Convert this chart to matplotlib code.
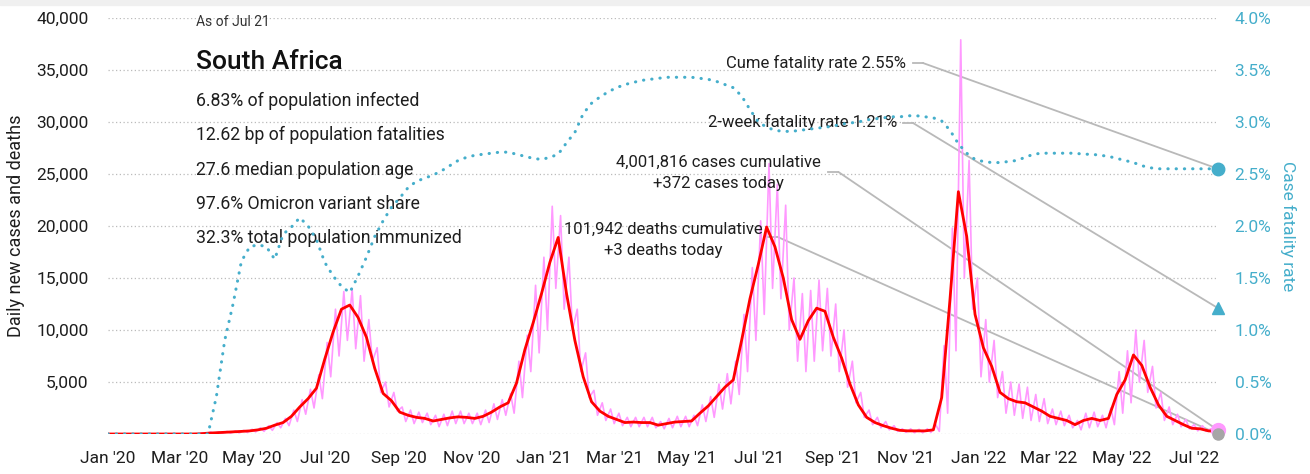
import matplotlib
matplotlib.use('Agg')
import matplotlib.pyplot as plt
import matplotlib.dates as mdates
import numpy as np
import pandas as pd

plt.rcParams['font.family'] = ['Roboto', 'DejaVu Sans']

# weekly samples starting 2020-01-01, values in thousands of cases
cases_avg = [0, 0, 0, 0, 0, 0, 0, 0, 0, 0, 0, 0.02, 0.08, 0.12, 0.15, 0.2, 0.25, 0.3, 0.4, 0.55,
             0.85, 1.1, 1.7, 2.6, 3.4, 4.4, 7.2, 9.8, 12.0, 12.4, 11.2, 9.3, 6.3, 3.9, 3.2, 2.1, 1.8, 1.6, 1.5, 1.25,
             1.4, 1.55, 1.65, 1.6, 1.5, 1.7, 2.1, 2.6, 3.0, 4.9, 8.1, 10.7, 13.5, 16.5, 18.9, 13.5, 9.0, 5.5, 3.1, 2.2,
             1.7, 1.4, 1.1, 1.15, 1.1, 1.1, 0.85, 1.0, 1.15, 1.2, 1.25, 2.0, 2.7, 3.6, 4.5, 5.2, 9.0, 13.0, 16.3, 19.9,
             18.0, 15.0, 11.0, 9.1, 10.9, 12.1, 11.8, 9.3, 7.3, 4.8, 2.8, 1.6, 1.1, 0.8, 0.55, 0.35, 0.3, 0.3, 0.3, 0.4,
             3.5, 13.0, 23.3, 19.0, 11.5, 8.3, 6.5, 4.0, 3.4, 3.1, 3.0, 2.6, 2.2, 1.7, 1.5, 1.3, 0.9, 1.3, 1.5, 1.3,
             1.5, 3.8, 5.2, 7.6, 6.6, 4.5, 2.8, 1.7, 1.3, 0.9, 0.55, 0.5, 0.3, 0.25]

# weekly high / low of the raw daily counts, thousands
cases_hi = [0, 0, 0, 0, 0, 0, 0, 0, 0, 0, 0, 0.1, 0.2, 0.2, 0.25, 0.3, 0.35, 0.45, 0.6, 0.8,
            1.1, 1.5, 2.3, 3.3, 4.3, 5.7, 8.8, 12.0, 13.7, 13.9, 13.3, 11.0, 8.3, 5.0, 4.0, 2.6, 2.3, 2.1, 2.0, 1.8,
            1.9, 2.2, 2.2, 2.0, 2.0, 2.3, 2.9, 3.3, 3.9, 7.0, 9.5, 14.3, 17.0, 21.9, 21.0, 17.0, 12.0, 7.8, 4.2, 3.0,
            2.4, 2.0, 1.6, 1.6, 1.6, 1.6, 1.2, 1.5, 1.7, 1.7, 1.8, 2.8, 3.6, 4.8, 5.8, 7.0, 11.5, 16.0, 20.5, 26.0,
            24.0, 22.0, 15.0, 13.5, 13.8, 14.8, 14.0, 12.5, 10.0, 7.0, 4.0, 2.3, 1.6, 1.2, 0.8, 0.5, 0.5, 0.45, 0.5, 0.9,
            8.5, 19.8, 37.9, 26.3, 15.0, 11.0, 9.0, 6.0, 5.0, 4.8, 4.5, 3.8, 3.4, 2.4, 2.2, 1.8, 1.3, 2.0, 2.1, 1.8,
            2.5, 6.0, 8.0, 10.0, 9.0, 6.5, 4.0, 2.6, 1.9, 1.4, 0.9, 0.8, 0.5, 0.4]
cases_lo = [0, 0, 0, 0, 0, 0, 0, 0, 0, 0, 0, 0, 0.05, 0.05, 0.08, 0.1, 0.15, 0.2, 0.25, 0.35,
            0.6, 0.8, 1.2, 1.9, 2.5, 3.4, 5.5, 7.5, 9.0, 8.2, 7.0, 7.0, 4.0, 2.6, 2.2, 1.2, 1.0, 1.1, 0.9, 0.7,
            0.8, 1.0, 1.0, 1.0, 0.9, 1.1, 1.4, 1.8, 2.0, 3.5, 6.0, 7.8, 10.0, 14.0, 12.0, 10.0, 6.0, 3.5, 1.8, 1.3,
            1.0, 0.8, 0.7, 0.7, 0.7, 0.6, 0.5, 0.6, 0.7, 0.7, 0.8, 1.2, 1.6, 2.4, 2.9, 3.8, 6.0, 9.0, 11.5, 14.0,
            13.0, 10.0, 7.0, 6.0, 7.0, 8.0, 7.5, 6.0, 4.5, 3.0, 1.6, 0.9, 0.6, 0.4, 0.25, 0.15, 0.12, 0.12, 0.15, 0.25,
            2.0, 8.0, 15.0, 12.0, 5.5, 5.0, 3.5, 2.0, 1.8, 1.5, 1.3, 1.2, 1.0, 0.9, 0.8, 0.6, 0.4, 0.6, 0.7, 0.6,
            0.9, 2.0, 3.0, 5.0, 4.0, 2.5, 1.3, 0.9, 0.7, 0.5, 0.3, 0.25, 0.15, 0.37]

# cumulative case fatality rate, percent
cfr = [0, 0, 0, 0, 0, 0, 0, 0, 0, 0, 0, 0, 0, 0.36, 0.9, 1.25, 1.66, 1.8, 1.82, 1.8,
       1.68, 1.92, 1.99, 2.08, 2.0, 1.87, 1.65, 1.52, 1.42, 1.36, 1.52, 1.7, 1.9, 2.05, 2.18, 2.27, 2.37, 2.43, 2.46, 2.49,
       2.53, 2.58, 2.63, 2.66, 2.68, 2.69, 2.7, 2.71, 2.71, 2.69, 2.67, 2.65, 2.64, 2.66, 2.69, 2.8, 2.9, 3.08, 3.18, 3.24,
       3.29, 3.33, 3.36, 3.38, 3.4, 3.41, 3.42, 3.43, 3.43, 3.43, 3.43, 3.42, 3.41, 3.39, 3.36, 3.33, 3.25, 3.12, 3.0, 2.95,
       2.92, 2.91, 2.91, 2.92, 2.93, 2.94, 2.95, 2.96, 2.98, 2.99, 3.0, 3.02, 3.03, 3.04, 3.05, 3.05, 3.06, 3.06, 3.05, 3.04,
       3.01, 2.92, 2.79, 2.7, 2.64, 2.62, 2.61, 2.61, 2.62, 2.63, 2.66, 2.69, 2.7, 2.7, 2.7, 2.7, 2.7, 2.69, 2.69, 2.68,
       2.67, 2.65, 2.63, 2.61, 2.58, 2.56, 2.55, 2.55, 2.55, 2.55, 2.55, 2.55, 2.55, 2.55]

last_date = pd.Timestamp('2022-07-21')
cases_today = 372
deaths_today = 3
cfr_cume = 2.55
cfr_2wk = 1.21

info_lines = ['6.83% of population infected', '12.62 bp of population fatalities',
              '27.6 median population age', '97.6% Omicron variant share',
              '32.3% total population immunized']

teal = '#45aecb'
grey_line = '#b9b9b9'
ink = '#1e1e1e'

weeks = pd.date_range('2020-01-01', periods=len(cases_avg), freq='7D')
avg_dates = list(weeks) + [last_date]
avg_vals = np.array(cases_avg + [cases_today / 1000]) * 1000

# raw counts drawn as a zig-zag between the weekly highs and lows
raw_dates, raw_vals = [], []
for w, hi, lo in zip(weeks, cases_hi, cases_lo):
    raw_dates += [w + pd.Timedelta(days=2), w + pd.Timedelta(days=5)]
    raw_vals += [hi * 1000, lo * 1000]
raw_dates.append(last_date)
raw_vals.append(cases_today)

fig = plt.figure(figsize=(13.1, 4.74), dpi=100)
fig.patches.append(plt.Rectangle((0, 1 - 5 / 474), 1, 5 / 474, transform=fig.transFigure,
                                 color='#f0f0f0', zorder=0))
ax = fig.add_axes([108 / 1310, 40 / 474, 1110 / 1310, 416 / 474])
ax2 = ax.twinx()

ax.plot(raw_dates, raw_vals, color='#ff99ff', lw=1.2, zorder=2)
ax.plot(avg_dates, avg_vals, color='#ff0000', lw=2, zorder=3)
ax.plot([last_date], [cases_today], 'o', color='#ff99ff', ms=10, zorder=4, clip_on=False)
ax.plot([last_date], [deaths_today], 'o', color='#a6a6a6', ms=8, zorder=5, clip_on=False)

ax2.plot(list(weeks) + [last_date], cfr + [cfr_cume], color=teal, lw=2.2,
         linestyle=(0, (0.1, 2.6)), dash_capstyle='round', zorder=3)
ax2.plot([last_date], [cfr_cume], 'o', color=teal, ms=9, clip_on=False, zorder=4)
ax2.plot([last_date], [cfr_2wk], '^', color=teal, ms=9, clip_on=False, zorder=4)

ax.set_xlim(pd.Timestamp('2020-01-01'), last_date)
ax.set_ylim(0, 40000)
ax2.set_ylim(0, 4)
ax.set_yticks(np.arange(5000, 40001, 5000))
ax.set_yticklabels([f'{v:,}' for v in range(5000, 40001, 5000)])
ax2.set_yticks(np.arange(0, 4.01, 0.5))
ax2.set_yticklabels([f'{v:.1f}%' for v in np.arange(0, 4.01, 0.5)])
for y in np.arange(0, 40001, 5000):
    ax.axhline(y, color='#bbbbbb', lw=0.9, linestyle=(0, (1, 2)), zorder=0)

ax.xaxis.set_major_locator(mdates.MonthLocator(bymonth=[1, 3, 5, 7, 9, 11]))
ax.xaxis.set_major_formatter(mdates.DateFormatter("%b '%y"))

for a in (ax, ax2):
    for s in a.spines.values():
        s.set_visible(False)
    a.tick_params(length=0, labelsize=12.5)
ax.tick_params(axis='x', pad=12, colors=ink)
ax.tick_params(axis='y', pad=14, colors=ink)
ax2.tick_params(axis='y', pad=12, labelcolor=teal)
ax.set_ylabel('Daily new cases and deaths', fontsize=13, labelpad=8, color=ink)
ax2.set_ylabel('Case fatality rate', fontsize=12.5, color=teal, rotation=270, labelpad=18)

# headline block
ax.text(0.0793, 0.99, 'As of Jul 21', transform=ax.transAxes, fontsize=10, va='center', color='#333333')
ax.text(0.0793, 0.894, 'South Africa', transform=ax.transAxes, fontsize=19, fontweight='medium',
        va='center', color='#111111')
for i, line in enumerate(info_lines):
    ax.text(0.0793, 0.800 - i * 0.0823, line, transform=ax.transAxes, fontsize=12.7, va='center', color=ink)

end_x = mdates.date2num(last_date)


def callout(text, target_ax, y, tx, ty, ha, s0, s1, sy):
    ax.text(tx, ty, text, transform=ax.transAxes, fontsize=12, ha=ha, va='center',
            multialignment='center', color=ink, zorder=6, linespacing=1.5)
    ax.plot([s0, s1], [sy, sy], color=grey_line, lw=1.3, transform=ax.transAxes, clip_on=False, zorder=1)
    ax.annotate('', xy=(end_x, y), xycoords=target_ax.transData, xytext=(s1, sy), textcoords='axes fraction',
                arrowprops=dict(arrowstyle='-', color=grey_line, lw=1.3, shrinkA=0, shrinkB=0), zorder=1)


callout(f'Cume fatality rate {cfr_cume:.2f}%', ax2, cfr_cume, 0.719, 0.892, 'right', 0.725, 0.734, 0.892)
callout(f'2-week fatality rate {cfr_2wk:.2f}%', ax2, cfr_2wk, 0.711, 0.750, 'right', 0.716, 0.725, 0.748)
callout(f'4,001,816 cases cumulative\n+{cases_today} cases today', ax, cases_today,
        0.5495, 0.628, 'center', 0.649, 0.658, 0.63)
callout(f'101,942 deaths cumulative\n+{deaths_today} deaths today', ax, deaths_today,
        0.50, 0.466, 'center', 0.595, 0.603, 0.474)

fig.savefig('out.png', dpi=100)
